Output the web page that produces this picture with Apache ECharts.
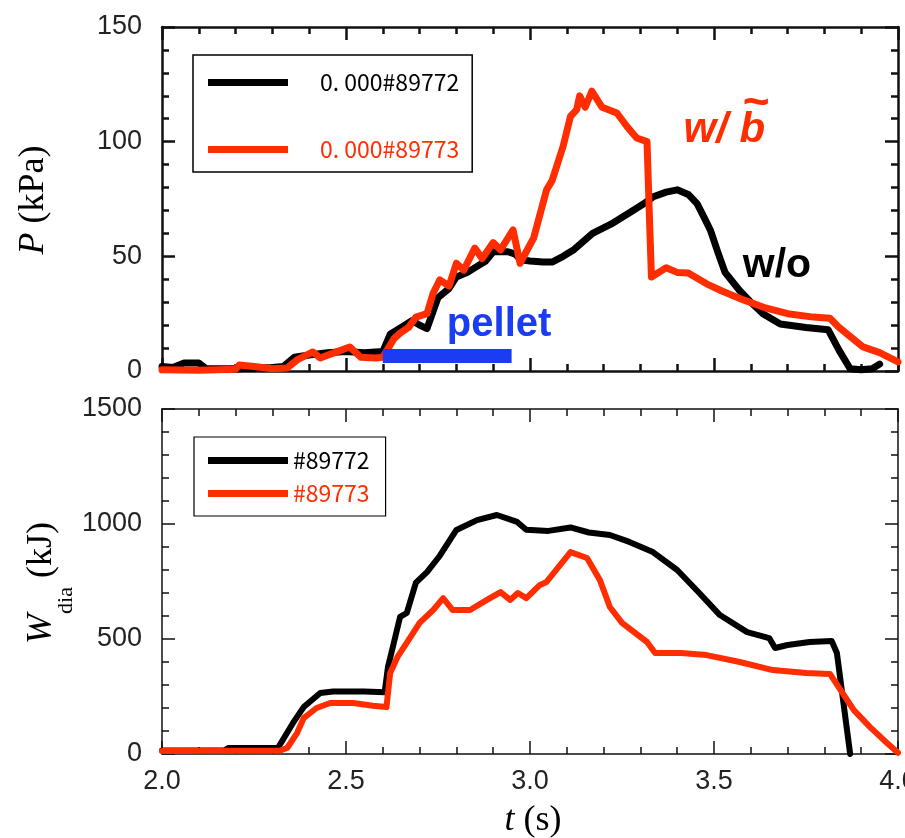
<!DOCTYPE html>
<html>
<head>
<meta charset="utf-8">
<script src="https://cdn.jsdelivr.net/npm/echarts@6/dist/echarts.min.js"></script>
<style>
  html, body { margin: 0; padding: 0; background: #fff; }
  #chart { width: 905px; height: 838px; }
</style>
</head>
<body>
<div id="chart"></div>
<script>
// Plasma pressure P (kPa), shot #89772 (no field perturbation)
const pBlackT = [2.00, 2.03, 2.06, 2.10, 2.12, 2.20, 2.30, 2.33, 2.36, 2.40, 2.45, 2.50, 2.55, 2.60,
  2.62, 2.65, 2.68, 2.70, 2.72, 2.75, 2.78, 2.80, 2.83, 2.855, 2.88, 2.90, 2.94, 2.96, 2.975,
  3.00, 3.035, 3.06, 3.09, 3.12, 3.17, 3.22, 3.28, 3.31, 3.335, 3.37, 3.40, 3.43, 3.454, 3.47,
  3.49, 3.51, 3.53, 3.57, 3.60, 3.633, 3.68, 3.75, 3.81, 3.84, 3.87, 3.90, 3.93, 3.95];
const pBlackV = [2, 1.5, 3.5, 3.5, 1, 1, 1.5, 2, 6, 7, 8, 8.5, 8, 8.5,
  16, 19, 22, 20, 18.5, 32, 36, 41, 43, 45.5, 48, 52, 52, 51, 48.5,
  48, 47.5, 47.5, 50, 53, 60, 64, 70, 73, 76, 78, 79, 77, 73, 68,
  61.5, 52, 43, 35, 30, 25, 20.5, 19, 18, 9, 1, 0.5, 1, 3];

// Plasma pressure P (kPa), shot #89773 (with field perturbation)
const pRedT = [2.00, 2.10, 2.20, 2.21, 2.25, 2.30, 2.34, 2.367, 2.41, 2.43, 2.465, 2.51, 2.54, 2.58,
  2.60, 2.63, 2.647, 2.67, 2.69, 2.72, 2.737, 2.755, 2.78, 2.80, 2.82, 2.85, 2.87, 2.90, 2.92,
  2.954, 2.973, 3.01, 3.045, 3.06, 3.09, 3.11, 3.127, 3.135, 3.15, 3.168, 3.196, 3.236, 3.264,
  3.29, 3.318, 3.326, 3.33, 3.37, 3.40, 3.43, 3.48, 3.52, 3.58, 3.64, 3.70, 3.77, 3.815, 3.84,
  3.905, 3.95, 4.00];
const pRedV = [0.5, 0.3, 0.8, 2.6, 2, 1, 1.3, 4.8, 8.3, 5.7, 7.8, 10.5, 6, 5.7,
  6, 14, 16.5, 19, 23.5, 25, 34, 39.7, 37, 47, 44, 53.6, 49, 56, 52.8,
  61.5, 47, 58, 79, 83, 98, 111, 114, 120, 115, 122, 115, 112.5, 106.5,
  101.6, 100, 60, 41, 45, 43, 42.7, 38, 35, 31, 27.5, 25, 23.5, 23, 19,
  10.5, 8, 4];

// Pellet injection window
const pelletT = [2.60, 2.95];
const pelletV = [6.5, 6.5];

// Diamagnetic stored energy W_dia (kJ), shot #89772
const wBlackT = [2.00, 2.17, 2.18, 2.315, 2.356, 2.385, 2.43, 2.465, 2.55, 2.605, 2.614, 2.63, 2.647,
  2.665, 2.69, 2.72, 2.755, 2.80, 2.856, 2.91, 2.965, 2.99, 3.05, 3.11, 3.16, 3.217, 3.27,
  3.334, 3.40, 3.46, 3.516, 3.59, 3.65, 3.666, 3.70, 3.76, 3.82, 3.834, 3.87];
const wBlackV = [15, 16, 26, 26, 135, 204, 265, 272, 272, 268, 378, 483, 596,
  613, 745, 791, 862, 974, 1017, 1039, 1009, 975, 970, 985, 963, 952, 922,
  878, 800, 700, 604, 530, 504, 461, 474, 487, 491, 439, 0];

// Diamagnetic stored energy W_dia (kJ), shot #89773
const wRedT = [2.00, 2.32, 2.34, 2.367, 2.385, 2.42, 2.457, 2.52, 2.573, 2.61, 2.62, 2.64, 2.665,
  2.70, 2.737, 2.764, 2.79, 2.837, 2.883, 2.92, 2.946, 2.967, 2.99, 3.027, 3.045, 3.11, 3.155,
  3.19, 3.217, 3.25, 3.318, 3.34, 3.41, 3.48, 3.57, 3.66, 3.75, 3.815, 3.88, 3.924, 3.97, 4.00];
const wRedV = [13, 15, 26, 91, 156, 200, 222, 222, 210, 204, 352, 422, 483,
  570, 626, 678, 626, 626, 670, 704, 670, 700, 678, 735, 748, 878, 852,
  756, 639, 570, 487, 439, 439, 430, 400, 365, 352, 348, 191, 117, 48, 5];

// Legend entries
const topNames = ['0. 000#89772', '0. 000#89773'];
const bottomNames = ['#89772', '#89773'];

// Axis ranges [min, max, interval]
const tRange = [2, 4, 0.5];
const pRange = [0, 150, 50];
const wRange = [0, 1500, 500];

const RED = '#ff2d00';
const BLACK = '#000000';
const BLUE = '#1a3cf2';
const AXIS = '#111111';

const zip = (xs, ys) => xs.map((x, i) => [x, ys[i]]);

function tAxis(grid, pos, showLabels, w) {
  return {
    type: 'value', gridIndex: grid, position: pos,
    min: tRange[0], max: tRange[1], interval: tRange[2],
    axisLine: { show: true, onZero: false, lineStyle: { color: AXIS, width: w } },
    axisTick: { show: true, inside: true, length: 13, lineStyle: { color: AXIS, width: w } },
    minorTick: { show: true, splitNumber: 5, length: 7, lineStyle: { color: AXIS, width: w } },
    splitLine: { show: false }, minorSplitLine: { show: false },
    axisLabel: {
      show: showLabels, margin: 14, fontSize: 27, color: '#222',
      fontFamily: 'Liberation Sans', showMaxLabel: true, showMinLabel: true,
      hideOverlap: false,
      formatter: v => v.toFixed(1)
    }
  };
}

function vAxis(grid, pos, range, showLabels, w) {
  return {
    type: 'value', gridIndex: grid, position: pos,
    min: range[0], max: range[1], interval: range[2],
    axisLine: { show: true, onZero: false, lineStyle: { color: AXIS, width: w } },
    axisTick: { show: true, inside: true, length: 13, lineStyle: { color: AXIS, width: w } },
    minorTick: { show: true, splitNumber: 5, length: 7, lineStyle: { color: AXIS, width: w } },
    splitLine: { show: false }, minorSplitLine: { show: false },
    axisLabel: {
      show: showLabels, margin: 20, fontSize: 27, color: '#222',
      fontFamily: 'Liberation Sans',
      formatter: v => String(v)
    }
  };
}

function lineSeries(name, xi, yi, data, color, width, z) {
  return {
    name, type: 'line', xAxisIndex: xi, yAxisIndex: yi, data,
    showSymbol: false, symbol: 'none', smooth: false, z,
    lineStyle: { color, width, join: 'round', cap: 'round' },
    itemStyle: { color },
    animation: false
  };
}

const legendFont = 'Noto Sans CJK JP';

const option = {
  backgroundColor: '#fff',
  animation: false,
  grid: [
    { left: 162, top: 27, width: 736, height: 344, outerBoundsMode: 'none', containLabel: false },
    { left: 162, top: 409, width: 736, height: 345, outerBoundsMode: 'none', containLabel: false }
  ],
  xAxis: [
    tAxis(0, 'bottom', false, 2.5),
    tAxis(0, 'top', false, 2.5),
    tAxis(1, 'bottom', true, 1.5),
    tAxis(1, 'top', false, 1.5)
  ],
  yAxis: [
    vAxis(0, 'left', pRange, true, 2.5),
    vAxis(0, 'right', pRange, false, 2.5),
    vAxis(1, 'left', wRange, true, 1.5),
    vAxis(1, 'right', wRange, false, 1.5)
  ],
  legend: [
    {
      orient: 'vertical', left: 193, top: 55,
      icon: 'rect', itemWidth: 80, itemHeight: 7, itemGap: 44,
      padding: [16, 13, 11, 15],
      borderColor: '#000', borderWidth: 1.5, backgroundColor: '#fff',
      itemStyle: { borderWidth: 0 },
      textStyle: { fontFamily: legendFont, fontSize: 23, padding: [0, 0, 0, 27] },
      data: [
        { name: topNames[0], textStyle: { color: BLACK } },
        { name: topNames[1], textStyle: { color: RED } }
      ]
    },
    {
      orient: 'vertical', left: 194, top: 437,
      icon: 'rect', itemWidth: 80, itemHeight: 7, itemGap: 10,
      padding: [12, 16, 11, 14],
      borderColor: '#000', borderWidth: 1.2, backgroundColor: '#fff',
      itemStyle: { borderWidth: 0 },
      textStyle: { fontFamily: legendFont, fontSize: 23 },
      data: [
        { name: bottomNames[0], textStyle: { color: BLACK } },
        { name: bottomNames[1], textStyle: { color: RED } }
      ]
    }
  ],
  series: [
    lineSeries(topNames[0], 0, 0, zip(pBlackT, pBlackV), BLACK, 7, 2),
    lineSeries(topNames[1], 0, 0, zip(pRedT, pRedV), RED, 7, 3),
    {
      name: 'pellet', type: 'line', xAxisIndex: 0, yAxisIndex: 0,
      data: zip(pelletT, pelletV), showSymbol: false, symbol: 'none', z: 4,
      lineStyle: { color: BLUE, width: 14, cap: 'butt' }, silent: true
    },
    lineSeries(bottomNames[0], 2, 2, zip(wBlackT, wBlackV), BLACK, 6, 2),
    lineSeries(bottomNames[1], 2, 2, zip(wRedT, wRedV), RED, 6, 3)
  ]
};

const chart = echarts.init(document.getElementById('chart'), null, { renderer: 'canvas' });
chart.setOption(option);

// Annotations anchored in data space of the pressure panel
const px = (t, v) => chart.convertToPixel({ xAxisIndex: 0, yAxisIndex: 0 }, [t, v]);
const pelletAt = px(2.916, 20);
const withAt = px(3.528, 104.7);
const withoutAt = px(3.671, 45.8);

const serif = 'Liberation Serif';

chart.setOption({
  graphic: [
    {
      type: 'text', x: pelletAt[0], y: pelletAt[1], z: 10,
      style: { text: 'pellet', fontFamily: 'Liberation Sans', fontWeight: 'bold',
        fontSize: 40, fill: BLUE, align: 'center', verticalAlign: 'middle' }
    },
    {
      type: 'text', x: withAt[0], y: withAt[1], z: 10,
      style: { text: 'w/ b', fontFamily: 'Liberation Sans', fontWeight: 'bold',
        fontStyle: 'italic', fontSize: 42, fill: RED, align: 'center', verticalAlign: 'middle' }
    },
    {
      // tilde accent over the b
      type: 'text', x: withAt[0] + 32, y: withAt[1] - 27, z: 10,
      style: { text: '~', fontFamily: 'Liberation Sans', fontWeight: 'bold',
        fontSize: 46, fill: RED, align: 'center', verticalAlign: 'middle' }
    },
    {
      type: 'text', x: withoutAt[0], y: withoutAt[1], z: 10,
      style: { text: 'w/o', fontFamily: 'Liberation Sans', fontWeight: 'bold',
        fontSize: 41, fill: BLACK, align: 'center', verticalAlign: 'middle' }
    },
    {
      type: 'text', x: 34, y: 200, rotation: Math.PI / 2,
      style: {
        text: '{i|P} {n|(kPa)}', fontFamily: serif, fontSize: 36,
        align: 'center', verticalAlign: 'middle', fill: '#000',
        rich: {
          i: { fontFamily: serif, fontStyle: 'italic', fontSize: 36, fill: '#000' },
          n: { fontFamily: serif, fontSize: 36, fill: '#000' }
        }
      }
    },
    {
      type: 'text', x: 42, y: 583, rotation: Math.PI / 2,
      style: {
        text: '{i|W}{s|dia} {n|(kJ)}', fontFamily: serif, fontSize: 36,
        align: 'center', verticalAlign: 'middle', fill: '#000',
        rich: {
          i: { fontFamily: serif, fontStyle: 'italic', fontSize: 36, lineHeight: 70, fill: '#000' },
          s: { fontFamily: serif, fontSize: 22, verticalAlign: 'bottom', fill: '#000' },
          n: { fontFamily: serif, fontSize: 36, lineHeight: 70, fill: '#000' }
        }
      }
    },
    {
      type: 'text', x: 533, y: 821,
      style: {
        text: '{i|t} {n|(s)}', fontFamily: serif, fontSize: 36,
        align: 'center', verticalAlign: 'middle', fill: '#000',
        rich: {
          i: { fontFamily: serif, fontStyle: 'italic', fontSize: 36, fill: '#000' },
          n: { fontFamily: serif, fontSize: 36, fill: '#000' }
        }
      }
    }
  ]
});
</script>
</body>
</html>
